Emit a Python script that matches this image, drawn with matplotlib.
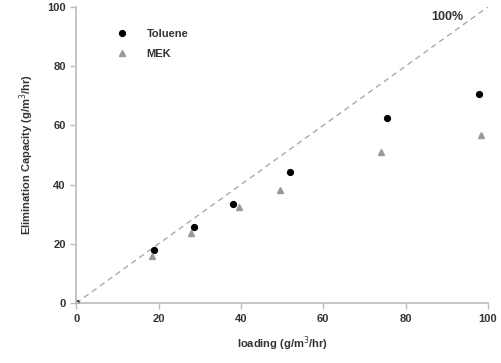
import numpy as np
import matplotlib
matplotlib.use("Agg")
import matplotlib.pyplot as plt

plt.rcParams["font.family"] = ["Liberation Sans", "DejaVu Sans"]

# data
tol_x = [0, 19.0, 28.5, 38.0, 52.0, 75.5, 97.8]
tol_y = [0, 17.8, 25.8, 33.5, 44.3, 62.4, 70.6]
mek_x = [0, 18.3, 27.8, 39.6, 49.6, 74.0, 98.4]
mek_y = [0, 16.0, 23.7, 32.3, 38.2, 51.0, 56.8]
ref_line = [0, 100]

fig = plt.figure(figsize=(5.01, 3.63), dpi=100)
ax = fig.add_axes([0.152, 0.165, 0.822, 0.816])

ax.plot(ref_line, ref_line, color="#aaaaaa", lw=1, linestyle=(0, (4, 3)))
ax.plot(tol_x, tol_y, "o", color="black", ms=4.2, label="Toluene")
ax.plot(mek_x, mek_y, "^", color="#999999", ms=5, label="MEK")
ax.text(86.3, 95.5, "100%", fontsize=9, fontweight="bold", color="#333333")

ax.set_xlim(0, 100)
ax.set_ylim(0, 100)
ax.set_xticks(np.arange(0, 101, 20))
ax.set_yticks(np.arange(0, 101, 20))
ax.spines["top"].set_visible(False)
ax.spines["right"].set_visible(False)
for s in ["left", "bottom"]:
    ax.spines[s].set_color("#bbbbbb")
    ax.spines[s].set_linewidth(1.2)
ax.tick_params(colors="#bbbbbb", labelcolor="#333333", labelsize=8, length=4, width=1)
for t in ax.get_xticklabels() + ax.get_yticklabels():
    t.set_fontweight("bold")

ax.set_xlabel("loading (g/m$^3$/hr)", fontsize=8, fontweight="bold", color="#333333", labelpad=8)
ax.set_ylabel("Elimination Capacity (g/m$^3$/hr)", fontsize=8, fontweight="bold", color="#333333", labelpad=8)

leg = ax.legend(loc="upper left", bbox_to_anchor=(0.06, 0.96), frameon=False, fontsize=8,
                handletextpad=1.2, labelspacing=0.9)
for t in leg.get_texts():
    t.set_fontweight("bold")
    t.set_color("#333333")

fig.savefig("out.png", dpi=100)
